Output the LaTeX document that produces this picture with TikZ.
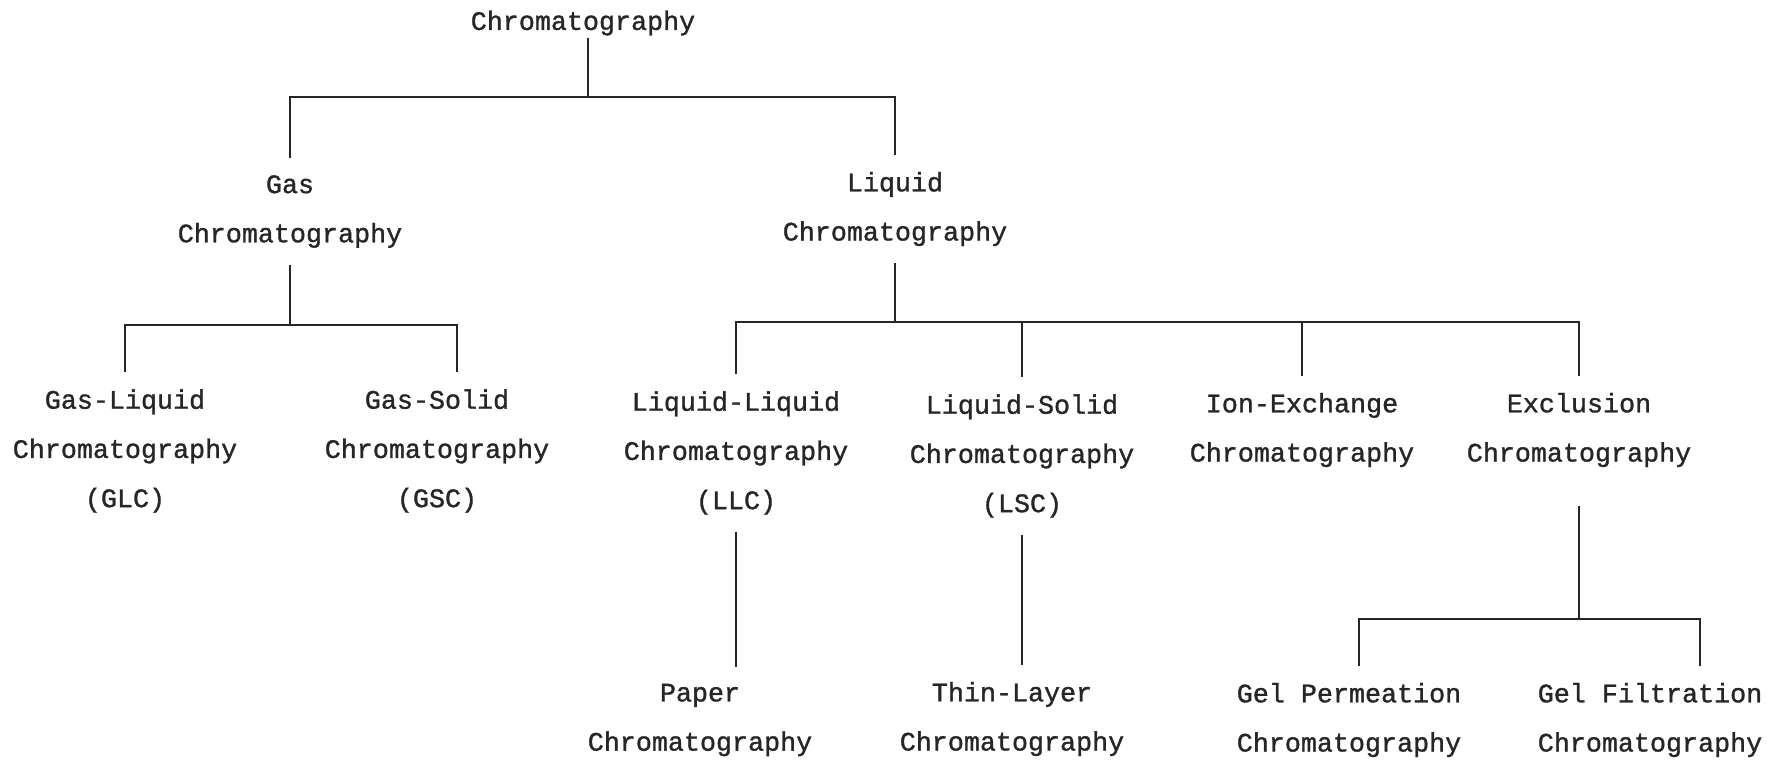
\documentclass[tikz,border=0pt]{standalone}
\usepackage{fontspec}
\newfontfamily\chromfamily{Liberation Mono}[FakeBold=1.2]
\newcommand{\chromfont}{\fontsize{7.6}{14}\selectfont\chromfamily}

\begin{document}
\begin{tikzpicture}[
  method/.style={font=\chromfont, align=center, inner sep=0pt, outer sep=1.7mm, text=black!85},
  branch/.style={line width=0.65pt, black!85},
]
  \useasboundingbox (0,0) rectangle (17.81,-7.61);

  % top level
  \node[method, outer sep=0.3mm] (chrom) at (5.83,-0.23) {Chromatography};

  % second level
  \node[method] (gas) at (2.90,-2.115) {Gas\\Chromatography};
  \node[method] (liq) at (8.95,-2.09)  {Liquid\\Chromatography};

  % third level
  \node[method] (glc)  at (1.25,-4.51)  {Gas-Liquid\\Chromatography\\(GLC)};
  \node[method] (gsc)  at (4.37,-4.51)  {Gas-Solid\\Chromatography\\(GSC)};
  \node[method] (llc)  at (7.36,-4.53)  {Liquid-Liquid\\Chromatography\\(LLC)};
  \node[method] (lsc)  at (10.22,-4.56) {Liquid-Solid\\Chromatography\\(LSC)};
  \node[method] (ion)  at (13.02,-4.30) {Ion-Exchange\\Chromatography};
  \node[method] (excl) at (15.79,-4.30) {Exclusion\\Chromatography};

  % fourth level
  \node[method] (paper) at (7.00,-7.20)  {Paper\\Chromatography};
  \node[method] (thin)  at (10.12,-7.19) {Thin-Layer\\Chromatography};
  \node[method] (gelp)  at (13.49,-7.20) {Gel Permeation\\Chromatography};
  \node[method] (gelf)  at (16.50,-7.20) {Gel Filtration\\Chromatography};

  % branch points
  \coordinate (b-top) at (5.88,-0.97);
  \coordinate (b-gas) at (2.85,-3.25);
  \coordinate (b-liq) at (8.87,-3.22);
  \coordinate (b-exc) at (15.81,-6.19);

  % chromatography -> gas / liquid
  \draw[branch] ([xshift=0.5mm]chrom.south) -- ([xshift=0.5mm]chrom.south |- b-top);
  \draw[branch] (gas.north) |- (b-top) -| (liq.north);

  % gas -> GLC / GSC
  \draw[branch] (gas.south) -- (gas.south |- b-gas);
  \draw[branch] (glc.north) |- (b-gas) -| ([xshift=2mm]gsc.north);

  % liquid -> LLC / LSC / ion exchange / exclusion
  \draw[branch] (liq.south) -- (liq.south |- b-liq);
  \draw[branch] (llc.north) |- (b-liq) -| (excl.north);
  \draw[branch] (lsc.north) -- (lsc.north |- b-liq);
  \draw[branch] (ion.north) -- (ion.north |- b-liq);

  % fourth level branches
  \draw[branch] (llc.south) -- (llc.south |- paper.north);
  \draw[branch] (lsc.south) -- (lsc.south |- thin.north);
  \draw[branch] ([yshift=-2.2mm]excl.south) -- (excl.south |- b-exc);
  \draw[branch] ([xshift=1mm]gelp.north) |- (b-exc) -| ([xshift=5mm]gelf.north);
\end{tikzpicture}
\end{document}
